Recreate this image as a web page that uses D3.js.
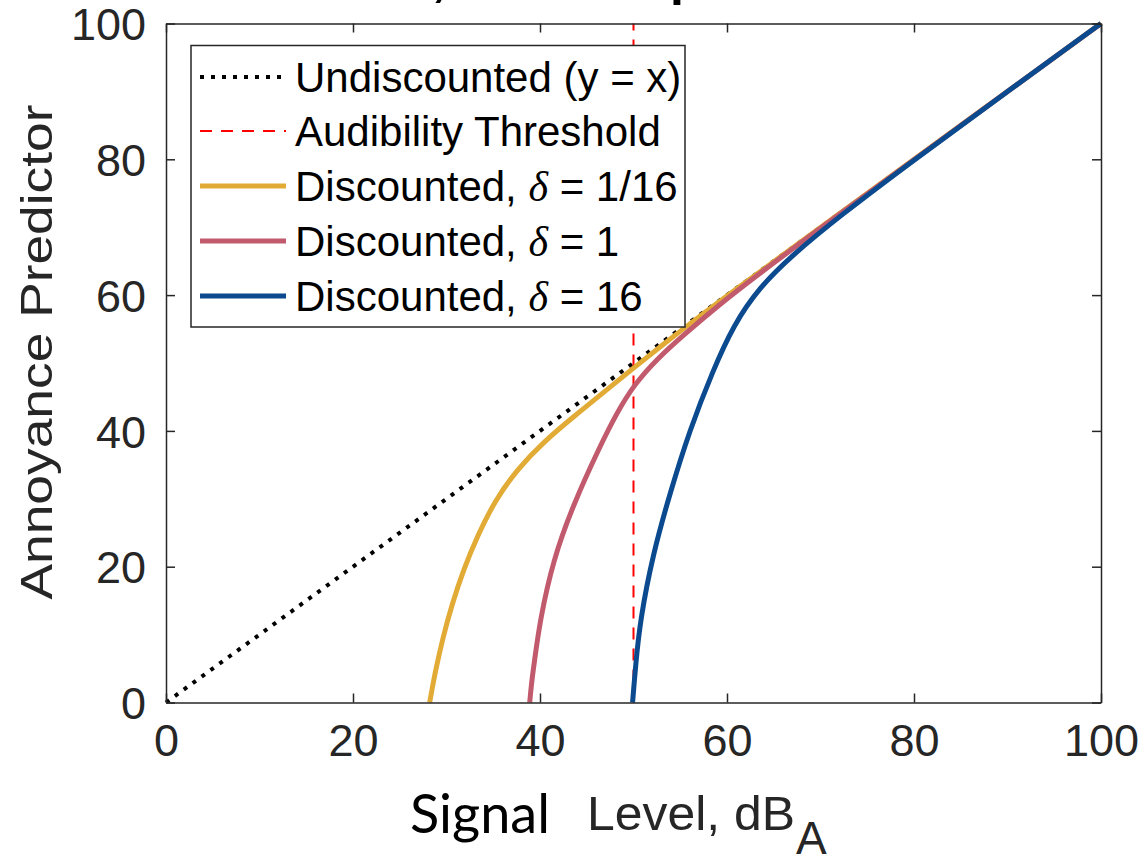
<!DOCTYPE html>
<html>
<head>
<meta charset="utf-8">
<script src="https://cdn.jsdelivr.net/npm/d3@7"></script>
<style>
  body { margin: 0; background: #fff; }
  svg { display: block; }
</style>
</head>
<body>
<div id="chart"></div>
<script>
// Annoyance predictor vs signal level

// tick values
const levelTicks = [0, 20, 40, 60, 80, 100];
const predictorTicks = [0, 20, 40, 60, 80, 100];

// undiscounted y = x
const undiscountedLevel = [0, 100];
const undiscountedPredictor = [0, 100];

// audibility threshold (vertical line at 50 dB)
const thresholdLevel = [50, 50];
const thresholdPredictor = [0, 100];

// discounted, delta = 1/16
const yellowLevel =     [28.2, 28.5, 28.8, 29.6, 30.6, 31.8, 33.3, 35.2, 37.6, 40.4, 43.6, 47.0, 50.0, 53.0, 56.0, 60.0, 70.0, 85.0, 100];
const yellowPredictor = [0,    2.3,  4.5,  9.5,  14.5, 19.5, 24.5, 29.8, 34.4, 38.4, 42.1, 45.9, 49.25, 52.55, 55.75, 59.9, 70.0, 85.0, 100];

// discounted, delta = 1
const roseLevel =     [38.9, 39.1, 39.4, 40.0, 41.4, 43.6, 46.4, 48.2, 50.0, 52.5, 55.5, 59.0, 63.0, 70.0, 85.0, 100];
const rosePredictor = [0,    3.0,  6.0,  12.1, 21.0, 29.3, 37.7, 42.6, 46.7, 50.6, 54.3, 58.4, 62.7, 69.9, 85.0, 100];

// discounted, delta = 16
const blueLevel =     [49.9, 50.05, 50.2, 50.7, 52.1, 53.9, 56.0, 58.5, 60.7, 63.5, 67.0, 72.0, 80.0, 90.0, 100];
const bluePredictor = [0,    2.5,   5.0,  12.1, 22.0, 30.8, 40.1, 48.9, 55.6, 61.2, 65.9, 71.6, 79.9, 90.0, 100];

const seriesNames = ["Undiscounted (y = x)", "Audibility Threshold",
                     "Discounted, δ = 1/16", "Discounted, δ = 1", "Discounted, δ = 16"];

const width = 1142,
    height = 857,
    margin = ({top: 23.5, right: 41, bottom: 154.5, left: 166});

const axisColor = "#262626";
const tickFont = "'Liberation Sans', Arial, sans-serif";

let svg = d3.select("#chart")
    .append("svg")
    .attr("width", width)
    .attr("height", height)
    .attr("viewBox", [0, 0, width, height]);

let x = d3.scaleLinear()
    .domain([0, 100])
    .range([margin.left, width - margin.right]);

let y = d3.scaleLinear()
    .domain([0, 100])
    .range([height - margin.bottom, margin.top]);

// title above the frame, only descenders peek in at the top edge
svg.append("text")
    .attr("y", -5)
    .style("font-family", "'Liberation Sans', Arial, sans-serif")
    .style("font-weight", "bold")
    .style("font-size", "50px")
    .style("fill", "#000")
    .call(t => {
        t.append("tspan").attr("x", 432).text(",");
        t.append("tspan").attr("x", 670).text("p");
    });

// lines (B-spline smooths between the read-off points)
let line = d3.line()
    .x(d => x(d[0]))
    .y(d => y(d[1]))
    .curve(d3.curveBasis);

let zip = (a, b) => a.map((v, i) => [v, b[i]]);

let plot = svg.append("g");

plot.append("path")
    .datum(zip(undiscountedLevel, undiscountedPredictor))
    .attr("d", line)
    .attr("fill", "none")
    .attr("stroke", "#000")
    .attr("stroke-width", 4)
    .attr("stroke-dasharray", "4,7");

plot.append("line")
    .attr("x1", x(thresholdLevel[0]))
    .attr("x2", x(thresholdLevel[1]))
    .attr("y1", y(thresholdPredictor[0]))
    .attr("y2", y(thresholdPredictor[1]))
    .attr("stroke", "#ff0000")
    .attr("stroke-width", 2)
    .attr("stroke-dasharray", "12,9");

const curves = [
    {lv: yellowLevel, pr: yellowPredictor, color: "#e1ab35"},
    {lv: roseLevel, pr: rosePredictor, color: "#c25a6d"},
    {lv: blueLevel, pr: bluePredictor, color: "#0b4a8e"}
];

for (let c of curves) {
    plot.append("path")
        .datum(zip(c.lv, c.pr))
        .attr("d", line)
        .attr("fill", "none")
        .attr("stroke", c.color)
        .attr("stroke-width", 5)
        .attr("stroke-linejoin", "round");
}

// axes: inward ticks on all four sides
let axes = svg.append("g")
    .style("font-family", tickFont);

axes.append("g")
    .attr("transform", `translate(0,${y(0)})`)
    .call(d3.axisBottom(x).tickValues(levelTicks).tickSizeInner(-9).tickSizeOuter(0).tickPadding(22));

axes.append("g")
    .attr("transform", `translate(0,${y(100)})`)
    .call(d3.axisTop(x).tickValues(levelTicks).tickSizeInner(-9).tickSizeOuter(0).tickFormat(""));

axes.append("g")
    .attr("class", "yaxis")
    .attr("transform", `translate(${x(0)},0)`)
    .call(d3.axisLeft(y).tickValues(predictorTicks).tickSizeInner(-9).tickSizeOuter(0).tickPadding(20));

axes.append("g")
    .attr("transform", `translate(${x(100)},0)`)
    .call(d3.axisRight(y).tickValues(predictorTicks).tickSizeInner(-9).tickSizeOuter(0).tickFormat(""));

axes.selectAll(".domain, .tick line")
    .attr("stroke", axisColor)
    .attr("stroke-width", 1.5);

axes.selectAll(".tick text")
    .style("font-size", "45px")
    .attr("fill", axisColor);

axes.selectAll(".yaxis .tick text")
    .attr("dy", "0.36em");

// y axis title
svg.append("text")
    .attr("transform", "translate(52,352) rotate(-90)")
    .attr("text-anchor", "middle")
    .attr("textLength", 495)
    .attr("lengthAdjust", "spacingAndGlyphs")
    .style("font-family", tickFont)
    .style("font-size", "45px")
    .style("fill", axisColor)
    .text("Annoyance Predictor");

// x axis title: "Signal" pasted in a different font, then "Level, dB" with subscript A
svg.append("text")
    .attr("x", 410)
    .attr("y", 833)
    .attr("textLength", 140)
    .attr("lengthAdjust", "spacingAndGlyphs")
    .style("font-family", "Lato, 'Open Sans', sans-serif")
    .style("font-size", "54px")
    .style("fill", "#000")
    .text("Signal");

svg.append("text")
    .attr("x", 587)
    .attr("y", 830)
    .attr("textLength", 208)
    .attr("lengthAdjust", "spacingAndGlyphs")
    .style("font-family", tickFont)
    .style("font-size", "49px")
    .style("fill", axisColor)
    .text("Level, dB");

svg.append("text")
    .attr("x", 796)
    .attr("y", 854)
    .style("font-family", tickFont)
    .style("font-size", "46px")
    .style("fill", axisColor)
    .text("A");

// legend
const legendBox = {x0: 191, y0: 45.5, x1: 685, y1: 327};
const rowY = [77, 131, 186, 241, 296];
const legendStyles = [
    {color: "#000", w: 4, dash: "4,7"},
    {color: "#ff0000", w: 2, dash: "12,9"},
    {color: "#e1ab35", w: 5, dash: null},
    {color: "#c25a6d", w: 5, dash: null},
    {color: "#0b4a8e", w: 5, dash: null}
];

let legend = svg.append("g");

legend.append("rect")
    .attr("x", legendBox.x0)
    .attr("y", legendBox.y0)
    .attr("width", legendBox.x1 - legendBox.x0)
    .attr("height", legendBox.y1 - legendBox.y0)
    .attr("fill", "#fff")
    .attr("stroke", axisColor)
    .attr("stroke-width", 1.5);

let item = legend.selectAll(".item")
    .data(seriesNames)
    .join("g")
    .attr("class", "item");

item.append("line")
    .attr("x1", 200)
    .attr("x2", 286)
    .attr("y1", (d, i) => rowY[i])
    .attr("y2", (d, i) => rowY[i])
    .attr("stroke", (d, i) => legendStyles[i].color)
    .attr("stroke-width", (d, i) => legendStyles[i].w)
    .attr("stroke-dasharray", (d, i) => legendStyles[i].dash);

item.append("text")
    .attr("x", 295)
    .attr("y", (d, i) => rowY[i] + 15)
    .style("font-family", tickFont)
    .style("font-size", "42px")
    .style("fill", "#000")
    .each(function(d) {
        let t = d3.select(this);
        let parts = d.split("δ");
        t.append("tspan").text(parts[0]);
        if (parts.length > 1) {
            t.append("tspan")
                .style("font-family", "'Liberation Serif', 'DejaVu Serif', serif")
                .style("font-style", "italic")
                .text("δ");
            t.append("tspan").text(parts[1]);
        }
    });
</script>
</body>
</html>
